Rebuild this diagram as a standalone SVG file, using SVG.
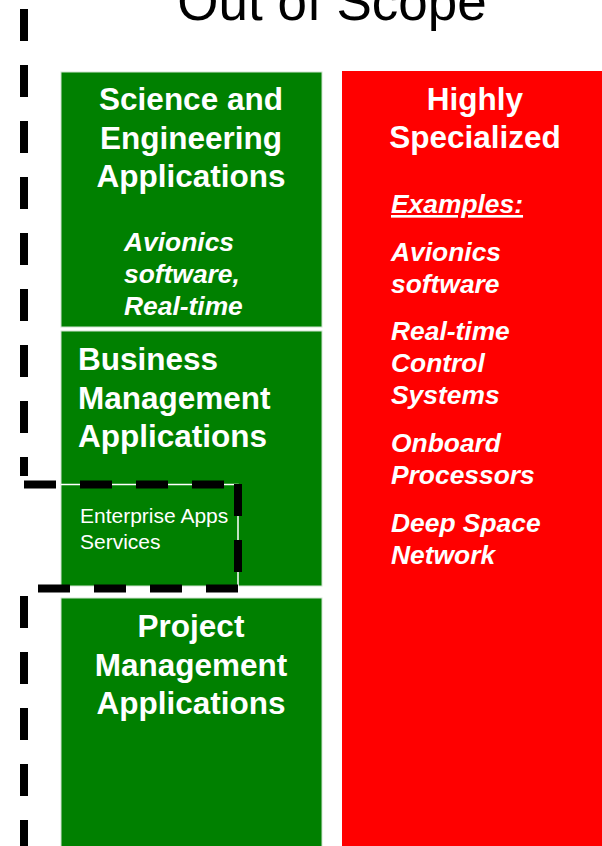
<svg xmlns="http://www.w3.org/2000/svg" width="602" height="846" viewBox="0 0 602 846">
<style>
.box{fill:#008000;stroke:#cfe3cf;stroke-width:1}
.red{fill:#ff0000}
.h{font-family:"Liberation Sans",Arial,sans-serif;font-weight:bold;font-size:31.5px;fill:#fff}
.c{text-anchor:middle}
.it{font-family:"Liberation Sans",Arial,sans-serif;font-weight:bold;font-style:italic;font-size:26.4px;fill:#fff}
.sm{font-family:"Liberation Sans",Arial,sans-serif;font-size:21px;fill:#fff}
.dash{fill:none;stroke:#000;stroke-width:8;stroke-dasharray:32 24}
.wl{fill:none;stroke:#fff;stroke-width:1.5}
</style>
<rect width="602" height="846" fill="#fff"/>
<text x="332" y="20" text-anchor="middle" font-family="Liberation Sans, Arial, sans-serif" font-size="53" fill="#000">Out of Scope</text>
<g id="science">
<rect class="box" x="61" y="72" width="261" height="255"/>
<text class="h c" x="191" y="110">Science and</text>
<text class="h c" x="191" y="148.5">Engineering</text>
<text class="h c" x="191" y="187">Applications</text>
<text class="it" x="124" y="251">Avionics</text>
<text class="it" x="124" y="283">software,</text>
<text class="it" x="124" y="315">Real-time</text>
</g>
<g id="business">
<rect class="box" x="61" y="331" width="261" height="255"/>
<text class="h" x="78" y="370">Business</text>
<text class="h" x="78" y="408.5">Management</text>
<text class="h" x="78" y="447">Applications</text>
</g>
<g id="enterprise">
<path class="wl" d="M61,484.5 H238 V588.5"/>
<text class="sm" x="80" y="523">Enterprise Apps</text>
<text class="sm" x="80" y="548.5">Services</text>
</g>
<g id="project">
<rect class="box" x="61" y="598" width="261" height="249"/>
<text class="h c" x="191" y="637">Project</text>
<text class="h c" x="191" y="676">Management</text>
<text class="h c" x="191" y="714">Applications</text>
</g>
<g id="specialized">
<rect class="red" x="342" y="71" width="261" height="776"/>
<text class="h c" x="475" y="110">Highly</text>
<text class="h c" x="475" y="147.5">Specialized</text>
<text class="it" x="391" y="213" text-decoration="underline">Examples:</text>
<text class="it" x="391" y="261">Avionics</text>
<text class="it" x="391" y="293">software</text>
<text class="it" x="391" y="340">Real-time</text>
<text class="it" x="391" y="372">Control</text>
<text class="it" x="391" y="404">Systems</text>
<text class="it" x="391" y="452">Onboard</text>
<text class="it" x="391" y="484">Processors</text>
<text class="it" x="391" y="532">Deep Space</text>
<text class="it" x="391" y="564">Network</text>
</g>
<g id="connectors">
<path class="dash" d="M24,9 V476"/>
<path class="dash" d="M24,484.5 H238"/>
<path class="dash" d="M238,484 V588"/>
<path class="dash" d="M238,588.5 H24"/>
<path class="dash" d="M24,596 V846"/>
</g>
</svg>
